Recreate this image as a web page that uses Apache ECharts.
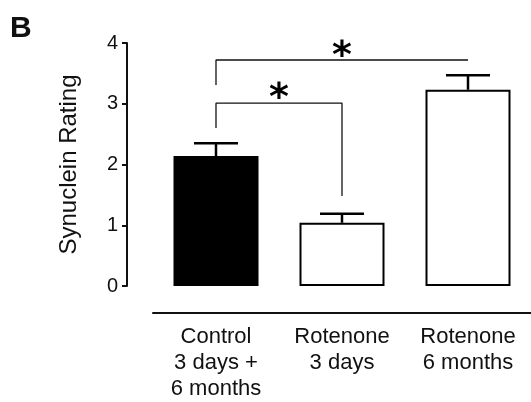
<!DOCTYPE html>
<html>
<head>
<meta charset="utf-8">
<script src="https://cdn.jsdelivr.net/npm/echarts@6/dist/echarts.min.js"></script>
<style>
  html, body { margin: 0; padding: 0; background: #fff; }
  #chart { width: 531px; height: 402px; }
</style>
</head>
<body>
<div id="chart"></div>
<script>
// data
const categories = ['Control\n3 days +\n6 months', 'Rotenone\n3 days', 'Rotenone\n6 months']
const means = [2.14, 1.04, 3.23]
const errTops = [2.35, 1.19, 3.47]
const yTicks = { min: 0, max: 4, interval: 1 }
// significance brackets, x in category index units
const bracketShort = [[0, 2.6], [0, 3.01], [1, 3.01], [1, 1.48]]
const bracketLong = [[0, 3.31], [0, 3.72], [2, 3.72]]
const stars = [[0.5, 3.23], [1.0, 3.92]]

const font = 'Liberation Sans, Arial, sans-serif'
const ink = '#111'

const chart = echarts.init(document.getElementById('chart'))

chart.setOption({
  animation: false,
  graphic: [{
    type: 'text',
    left: 10,
    top: 14,
    style: { text: 'B', font: 'bold 30px ' + font, fill: ink }
  }],
  grid: { left: 153, right: 0, top: 43, bottom: 116 },
  xAxis: [
    {
      type: 'category',
      data: categories,
      offset: 27,
      axisLine: { onZero: false, lineStyle: { color: ink, width: 2 } },
      axisTick: { alignWithLabel: true, length: 8, lineStyle: { color: ink, width: 2 } },
      axisLabel: { color: ink, fontFamily: font, fontSize: 22, lineHeight: 26, margin: 11 }
    },
    { type: 'value', min: -0.5, max: 2.5, show: false }
  ],
  yAxis: {
    type: 'value',
    min: yTicks.min,
    max: yTicks.max,
    interval: yTicks.interval,
    offset: 26,
    name: 'Synuclein Rating',
    nameLocation: 'middle',
    nameGap: 46,
    nameTextStyle: { color: ink, fontFamily: font, fontSize: 24 },
    axisLine: { show: true, onZero: false, lineStyle: { color: ink, width: 2 } },
    axisTick: { show: true, length: 5, lineStyle: { color: ink, width: 2 } },
    axisLabel: { color: ink, fontFamily: font, fontSize: 20, margin: 9 },
    splitLine: { show: false }
  },
  series: [
    {
      type: 'bar',
      xAxisIndex: 0,
      barWidth: 85,
      data: means.map((v, i) => ({
        value: v,
        itemStyle: i === 0
          ? { color: '#000', borderColor: '#000', borderWidth: 2 }
          : { color: '#fff', borderColor: '#000', borderWidth: 2 }
      }))
    },
    {
      type: 'custom',
      xAxisIndex: 0,
      data: means.map((v, i) => [i, v, errTops[i]]),
      z: 3,
      renderItem: (params, api) => {
        const base = api.coord([api.value(0), api.value(1)])
        const top = api.coord([api.value(0), api.value(2)])
        const style = { stroke: '#000', lineWidth: 2.5 }
        return {
          type: 'group',
          children: [
            { type: 'line', shape: { x1: base[0], y1: base[1], x2: top[0], y2: top[1] }, style },
            { type: 'line', shape: { x1: top[0] - 22, y1: top[1], x2: top[0] + 22, y2: top[1] }, style }
          ]
        }
      }
    },
    {
      type: 'line',
      xAxisIndex: 1,
      data: bracketShort,
      symbol: 'none',
      lineStyle: { color: ink, width: 1.3 }
    },
    {
      type: 'line',
      xAxisIndex: 1,
      data: bracketLong,
      symbol: 'none',
      lineStyle: { color: ink, width: 1.3 }
    },
    {
      type: 'scatter',
      xAxisIndex: 1,
      data: stars,
      symbolSize: 0,
      itemStyle: { opacity: 1 },
      label: {
        show: true,
        position: 'inside',
        formatter: '*',
        color: '#000',
        textBorderWidth: 0,
        fontFamily: 'DejaVu Sans',
        fontWeight: 'bold',
        fontSize: 38,
        offset: [0, 9]
      }
    }
  ]
})
</script>
</body>
</html>
